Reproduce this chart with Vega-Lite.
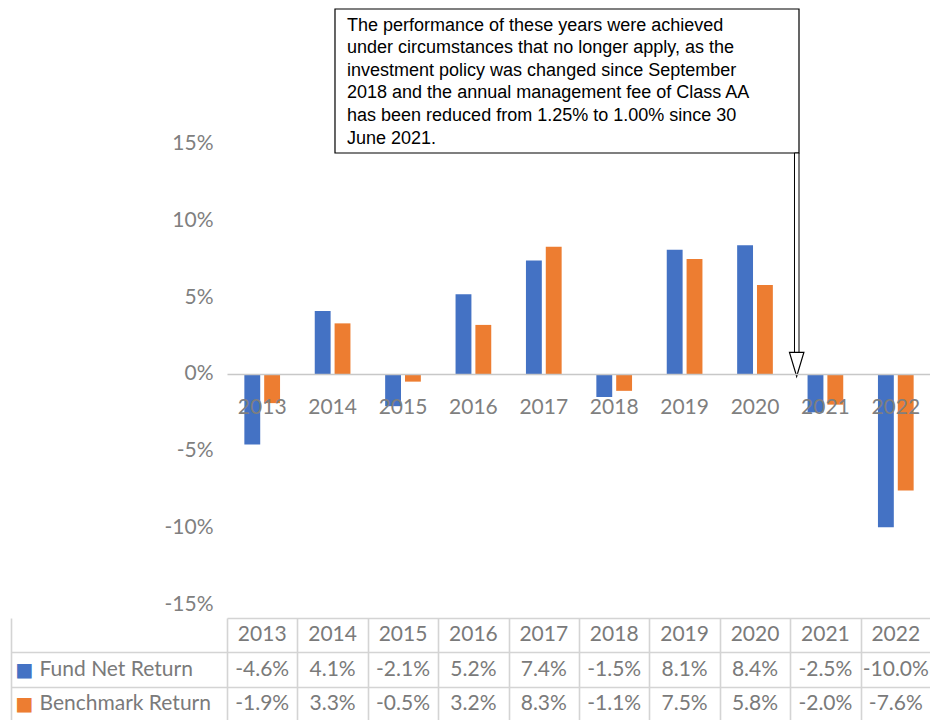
{
  "$schema": "https://vega.github.io/schema/vega-lite/v6.json",
  "padding": {"left": 10, "top": 8, "right": 0, "bottom": 0},
  "background": "white",
  "bounds": "flush",
  "spacing": 14,
  "config": {"view": {"stroke": null}, "font": "Lato"},
  "datasets": {
    "returns": [
      {"year": "2013", "series": "Fund Net Return", "value": -4.6},
      {"year": "2014", "series": "Fund Net Return", "value": 4.1},
      {"year": "2015", "series": "Fund Net Return", "value": -2.1},
      {"year": "2016", "series": "Fund Net Return", "value": 5.2},
      {"year": "2017", "series": "Fund Net Return", "value": 7.4},
      {"year": "2018", "series": "Fund Net Return", "value": -1.5},
      {"year": "2019", "series": "Fund Net Return", "value": 8.1},
      {"year": "2020", "series": "Fund Net Return", "value": 8.4},
      {"year": "2021", "series": "Fund Net Return", "value": -2.5},
      {"year": "2022", "series": "Fund Net Return", "value": -10.0},
      {"year": "2013", "series": "Benchmark Return", "value": -1.9},
      {"year": "2014", "series": "Benchmark Return", "value": 3.3},
      {"year": "2015", "series": "Benchmark Return", "value": -0.5},
      {"year": "2016", "series": "Benchmark Return", "value": 3.2},
      {"year": "2017", "series": "Benchmark Return", "value": 8.3},
      {"year": "2018", "series": "Benchmark Return", "value": -1.1},
      {"year": "2019", "series": "Benchmark Return", "value": 7.5},
      {"year": "2020", "series": "Benchmark Return", "value": 5.8},
      {"year": "2021", "series": "Benchmark Return", "value": -2.0},
      {"year": "2022", "series": "Benchmark Return", "value": -7.6}
    ],
    "note": [
      {"bx": 1.534, "bx2": 8.125, "by": 23.8, "by2": 14.41,
       "tx": 1.705, "ty": 23.3,
       "sx": 8.061, "sx2": 8.125, "sy": 14.41, "sy2": 1.4,
       "hx": 8.092, "hy": 0.62,
       "text": ["The performance of these years were achieved", "under circumstances that no longer apply, as the", "investment policy was changed since September", "2018 and the annual management fee of Class AA", "has been reduced from 1.25% to 1.00% since 30", "June 2021."]}
    ]
  },
  "vconcat": [
    {
      "width": 704,
      "height": 595,
      "layer": [
        {
          "data": {"name": "returns"},
          "mark": {"type": "bar"},
          "encoding": {
            "x": {"field": "year", "type": "ordinal", "scale": {"paddingInner": 0, "paddingOuter": 0},
                  "axis": {"orient": "bottom", "offset": -230, "title": null, "ticks": false, "domainColor": "#c8c8c8", "domainWidth": 1.5,
                           "labelFont": "Lato", "labelFontSize": 21, "labelColor": "#7f7f7f", "labelPadding": 22, "labelAngle": 0, "zindex": 1}},
            "xOffset": {"field": "series", "type": "nominal", "sort": ["Fund Net Return", "Benchmark Return"], "scale": {"paddingInner": 0.2, "paddingOuter": 0.875}},
            "y": {"field": "value", "type": "quantitative", "scale": {"domain": [-15, 23.8], "nice": false, "zero": false},
                  "axis": {"values": [-15, -10, -5, 0, 5, 10, 15], "labelExpr": "datum.value + '%'", "title": null, "domain": false, "ticks": false, "grid": false,
                           "labelPadding": 14, "labelFont": "Lato", "labelFontSize": 21, "labelColor": "#7f7f7f"}},
            "color": {"field": "series", "type": "nominal", "scale": {"domain": ["Fund Net Return", "Benchmark Return"], "range": ["#4472C4", "#ED7D31"]}, "legend": null}
          }
        },
        {
          "data": {"name": "note"},
          "mark": {"type": "rect", "fill": "white", "stroke": "#000000", "strokeWidth": 1.2},
          "encoding": {
            "x": {"field": "bx", "type": "quantitative", "scale": {"domain": [0, 10], "nice": false, "zero": false}, "axis": null},
            "x2": {"field": "bx2"},
            "y": {"field": "by", "type": "quantitative"},
            "y2": {"field": "by2"}
          }
        },
        {
          "data": {"name": "note"},
          "mark": {"type": "rect", "fill": "white", "stroke": "#000000", "strokeWidth": 1},
          "encoding": {
            "x": {"field": "sx", "type": "quantitative", "scale": {"domain": [0, 10], "nice": false, "zero": false}, "axis": null},
            "x2": {"field": "sx2"},
            "y": {"field": "sy", "type": "quantitative"},
            "y2": {"field": "sy2"}
          }
        },
        {
          "data": {"name": "note"},
          "mark": {"type": "point", "filled": true, "fill": "white", "stroke": "#000000", "strokeWidth": 1.2, "opacity": 1, "size": 576, "shape": "M-0.6,-1 L0.6,-1 L0,1 Z"},
          "encoding": {
            "x": {"field": "hx", "type": "quantitative", "scale": {"domain": [0, 10], "nice": false, "zero": false}, "axis": null},
            "y": {"field": "hy", "type": "quantitative"}
          }
        },
        {
          "data": {"name": "note"},
          "mark": {"type": "text", "align": "left", "baseline": "top", "font": "Liberation Sans", "fontSize": 18, "lineHeight": 22.6, "color": "#000000"},
          "encoding": {
            "x": {"field": "tx", "type": "quantitative", "scale": {"domain": [0, 10], "nice": false, "zero": false}, "axis": null},
            "y": {"field": "ty", "type": "quantitative"},
            "text": {"field": "text"}
          }
        }
      ],
      "resolve": {"scale": {"x": "independent"}}
    },
    {
      "width": 704,
      "height": 103,
      "data": {"name": "returns"},
      "layer": [
        {
          "transform": [{"calculate": "replace(format(datum.value, '.1f'), '\u2212', '-') + '%'", "as": "label"}],
          "mark": {"type": "text", "font": "Lato", "fontSize": 21, "color": "#7a7a7a", "baseline": "middle"},
          "encoding": {
            "x": {"field": "year", "type": "ordinal", "scale": {"paddingInner": 0, "paddingOuter": 0},
                  "axis": {"orient": "top", "title": null, "labels": false, "ticks": false, "domain": true, "domainColor": "#d4d4d4", "domainWidth": 1.6,
                           "grid": true, "gridColor": "#d4d4d4", "gridWidth": 1.6, "tickBand": "extent"}},
            "y": {"field": "series", "type": "nominal", "scale": {"domain": ["Year", "Fund Net Return", "Benchmark Return"], "paddingInner": 0, "paddingOuter": 0},
                  "axis": {"orient": "left", "title": null, "values": ["Fund Net Return", "Benchmark Return"], "domain": false,
                           "ticks": true, "tickSize": 216, "tickColor": "#d4d4d4", "tickWidth": 1.6, "tickBand": "extent",
                           "grid": true, "gridColor": "#d4d4d4", "gridWidth": 1.6,
                           "labelAlign": "left", "labelPadding": -28, "labelFont": "Lato", "labelFontSize": 21, "labelColor": "#7a7a7a", "labelBaseline": "middle"}},
            "text": {"field": "label"}
          }
        },
        {
          "transform": [{"filter": "datum.series === 'Fund Net Return'"}],
          "mark": {"type": "text", "font": "Lato", "fontSize": 21, "color": "#7a7a7a", "baseline": "middle"},
          "encoding": {
            "x": {"field": "year", "type": "ordinal"},
            "y": {"datum": "Year", "type": "nominal", "scale": {"domain": ["Year", "Fund Net Return", "Benchmark Return"], "paddingInner": 0, "paddingOuter": 0}, "axis": null},
            "text": {"field": "year"}
          }
        },
        {
          "mark": {"type": "text", "opacity": 0},
          "encoding": {
            "x": {"field": "year", "type": "ordinal"},
            "y": {"field": "series", "type": "nominal", "scale": {"domain": ["Year", "Fund Net Return", "Benchmark Return"], "paddingInner": 0, "paddingOuter": 0},
                  "axis": {"orient": "left", "offset": 216, "title": null, "values": ["Fund Net Return", "Benchmark Return"],
                           "domain": true, "domainColor": "#d4d4d4", "domainWidth": 1.6, "ticks": false, "tickSize": 0,
                           "labelExpr": "'\u25a0'", "labelAlign": "left", "labelPadding": -4, "labelFont": "DejaVu Sans", "labelFontSize": 19, "labelBaseline": "middle",
                           "labelColor": {"condition": {"test": "datum.value === 'Fund Net Return'", "value": "#4472C4"}, "value": "#ED7D31"}}},
            "text": {"field": "year"}
          }
        }
      ],
      "resolve": {"scale": {"y": "independent"}}
    }
  ]
}
